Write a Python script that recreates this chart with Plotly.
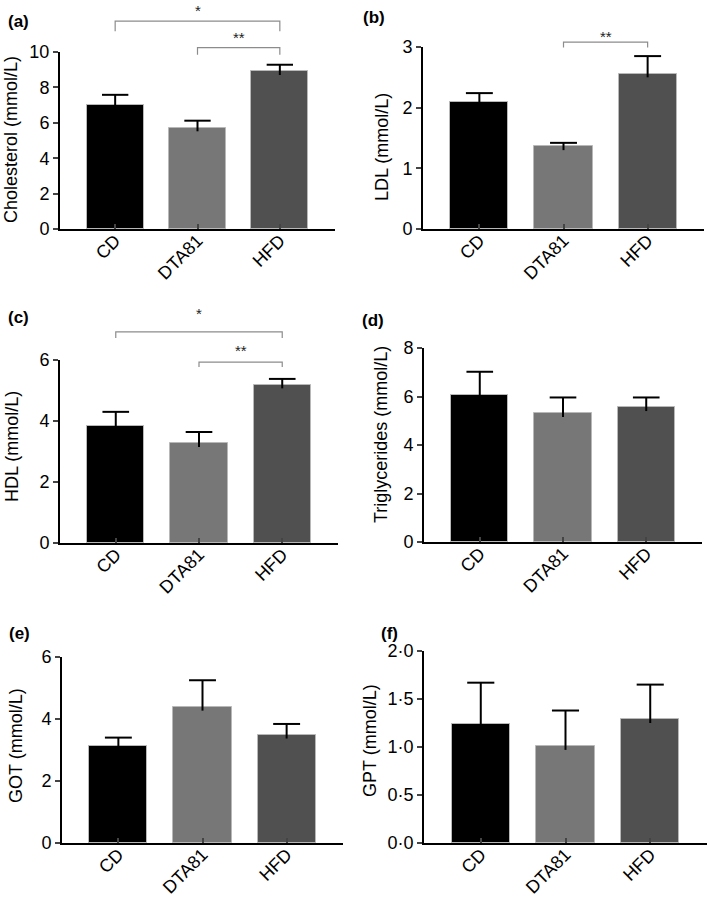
import plotly.graph_objects as go

# groups and colours
groups = ['CD', 'DTA81', 'HFD']
bar_colors = ['#000000', '#777777', '#505050']

# mean values and upper error (SEM)
cholesterol = [7.0, 5.72, 8.9]
cholesterol_err = [0.58, 0.40, 0.38]
ldl = [2.10, 1.36, 2.56]
ldl_err = [0.14, 0.06, 0.29]
hdl = [3.85, 3.27, 5.19]
hdl_err = [0.45, 0.37, 0.19]
triglycerides = [6.07, 5.31, 5.56]
triglycerides_err = [0.95, 0.65, 0.40]
got = [3.14, 4.39, 3.49]
got_err = [0.26, 0.86, 0.35]
gpt = [1.235, 1.01, 1.29]
gpt_err = [0.435, 0.37, 0.36]

FONT = 'Liberation Sans, Arial, sans-serif'
W, H = 709, 902

# panel boxes in pixels: left, right, top, bottom
# sig: (from group, to group, bracket level, bracket foot, star level, stars) in data units
panels = [
    {'tag': '(a)', 'title': 'Cholesterol (mmol/L)', 'y': cholesterol, 'err': cholesterol_err,
     'ymax': 10, 'dtick': 2, 'box': (60, 335, 52, 229), 'ttl': (11, 140), 'lbl': (18, 21),
     'sig': [(0, 2, 11.74, 11.17, 12.35, '*'), (1, 2, 10.25, 9.85, 10.81, '**')]},
    {'tag': '(b)', 'title': 'LDL (mmol/L)', 'y': ldl, 'err': ldl_err,
     'ymax': 3, 'dtick': 1, 'box': (423, 704, 47, 229), 'ttl': (382, 147), 'lbl': (374, 18),
     'sig': [(1, 2, 3.08, 2.99, 3.17, '**')]},
    {'tag': '(c)', 'title': 'HDL (mmol/L)', 'y': hdl, 'err': hdl_err,
     'ymax': 6, 'dtick': 2, 'box': (60, 338, 360, 543), 'ttl': (12, 447), 'lbl': (18, 317),
     'sig': [(0, 2, 6.92, 6.72, 7.51, '*'), (1, 2, 5.93, 5.77, 6.30, '**')]},
    {'tag': '(d)', 'title': 'Triglycerides (mmol/L)', 'y': triglycerides, 'err': triglycerides_err,
     'ymax': 8, 'dtick': 2, 'box': (424, 702, 348, 542), 'ttl': (381, 435), 'lbl': (373, 320),
     'sig': []},
    {'tag': '(e)', 'title': 'GOT (mmol/L)', 'y': got, 'err': got_err,
     'ymax': 6, 'dtick': 2, 'box': (62, 343, 657, 843), 'ttl': (16, 746), 'lbl': (19, 633),
     'sig': []},
    {'tag': '(f)', 'title': 'GPT (mmol/L)', 'y': gpt, 'err': gpt_err,
     'ymax': 2, 'dtick': 0.5, 'box': (424, 707, 651, 843), 'ttl': (370, 741), 'lbl': (389, 633),
     'sig': []},
]

fig = go.Figure()
xs = list(range(len(groups)))
cap = 0.16
xlo, xhi = -0.67, 2.67
annotations = []
shapes = []

for k, p in enumerate(panels):
    n = '' if k == 0 else str(k + 1)
    xa, ya = 'x' + n, 'y' + n
    left, right, top, bottom = p['box']

    fig.add_trace(go.Bar(x=xs, y=p['y'], width=0.69, xaxis=xa, yaxis=ya, showlegend=False,
                         marker={'color': bar_colors, 'line': {'color': '#b8b8b8', 'width': 1}}))

    # upper-only error bars
    ex, ey = [], []
    for i in xs:
        hi = p['y'][i] + p['err'][i]
        ex += [i, i, None, i - cap, i + cap, None]
        ey += [p['y'][i] - p['ymax'] * 0.02, hi, None, hi, hi, None]
    fig.add_trace(go.Scatter(x=ex, y=ey, mode='lines', xaxis=xa, yaxis=ya, showlegend=False,
                             line={'color': 'black', 'width': 2}, hoverinfo='skip'))

    if p['ymax'] == 2:
        tickvals = [0, 0.5, 1, 1.5, 2]
        ticktext = [f'{v:.1f}'.replace('.', '\u00b7') for v in tickvals]
    else:
        tickvals = list(range(0, p['ymax'] + 1, p['dtick']))
        ticktext = [str(v) for v in tickvals]

    fig.update_layout({
        'xaxis' + n: dict(domain=[left / W, right / W], anchor=ya, range=[xlo, xhi],
                          tickvals=xs, ticktext=groups, tickangle=-45, ticks='inside',
                          ticklen=5, tickwidth=1.5, showline=True, linecolor='black',
                          linewidth=2, showgrid=False, zeroline=False, automargin=False,
                          ticklabelstandoff=-8,
                          tickfont={'size': 18, 'color': 'black', 'family': FONT}),
        'yaxis' + n: dict(domain=[1 - bottom / H, 1 - top / H], anchor=xa,
                          range=[0, p['ymax']], tickvals=tickvals, ticktext=ticktext,
                          ticks='outside', ticklen=5, tickwidth=2, showline=True,
                          linecolor='black', linewidth=2, showgrid=False, zeroline=False,
                          automargin=False,
                          tickfont={'size': 18, 'color': 'black', 'family': FONT}),
    })

    annotations.append(dict(text=p['title'], x=p['ttl'][0] / W, y=1 - p['ttl'][1] / H,
                            xref='paper', yref='paper', showarrow=False, textangle=-90,
                            xanchor='center', yanchor='middle',
                            font={'size': 18, 'color': 'black', 'family': FONT}))
    annotations.append(dict(text='<b>' + p['tag'] + '</b>', x=p['lbl'][0] / W, y=1 - p['lbl'][1] / H,
                            xref='paper', yref='paper', showarrow=False,
                            xanchor='center', yanchor='middle',
                            font={'size': 17, 'color': 'black', 'family': FONT}))

    # significance brackets
    for a, b, ytop, yend, ystar, star in p['sig']:
        xa_dom = xa + ' domain'
        ya_dom = ya + ' domain'
        fa = (a - xlo) / (xhi - xlo)
        fb = (b - xlo) / (xhi - xlo)
        shapes.append(dict(type='path', xref=xa_dom, yref=ya_dom,
                           path=f'M {fa},{yend / p["ymax"]} L {fa},{ytop / p["ymax"]} '
                                f'L {fb},{ytop / p["ymax"]} L {fb},{yend / p["ymax"]}',
                           line={'color': '#8c8c8c', 'width': 1.2}))
        annotations.append(dict(text=star, x=(fa + fb) / 2, y=ystar / p['ymax'],
                                xref=xa_dom, yref=ya_dom, showarrow=False,
                                xanchor='center', yanchor='middle',
                                font={'size': 15, 'color': '#222222', 'family': FONT}))

fig.update_layout(template='none', width=W, height=H, margin=dict(l=0, r=0, t=0, b=0, pad=0),
                  plot_bgcolor='white', paper_bgcolor='white', font={'family': FONT},
                  annotations=annotations, shapes=shapes, bargap=0)

# drop the default page margin so the figure sits at the window's corner
fig.write_html("out.html", config={'displayModeBar': False},
               post_script="document.body.style.margin='0';document.body.style.overflow='hidden';")
